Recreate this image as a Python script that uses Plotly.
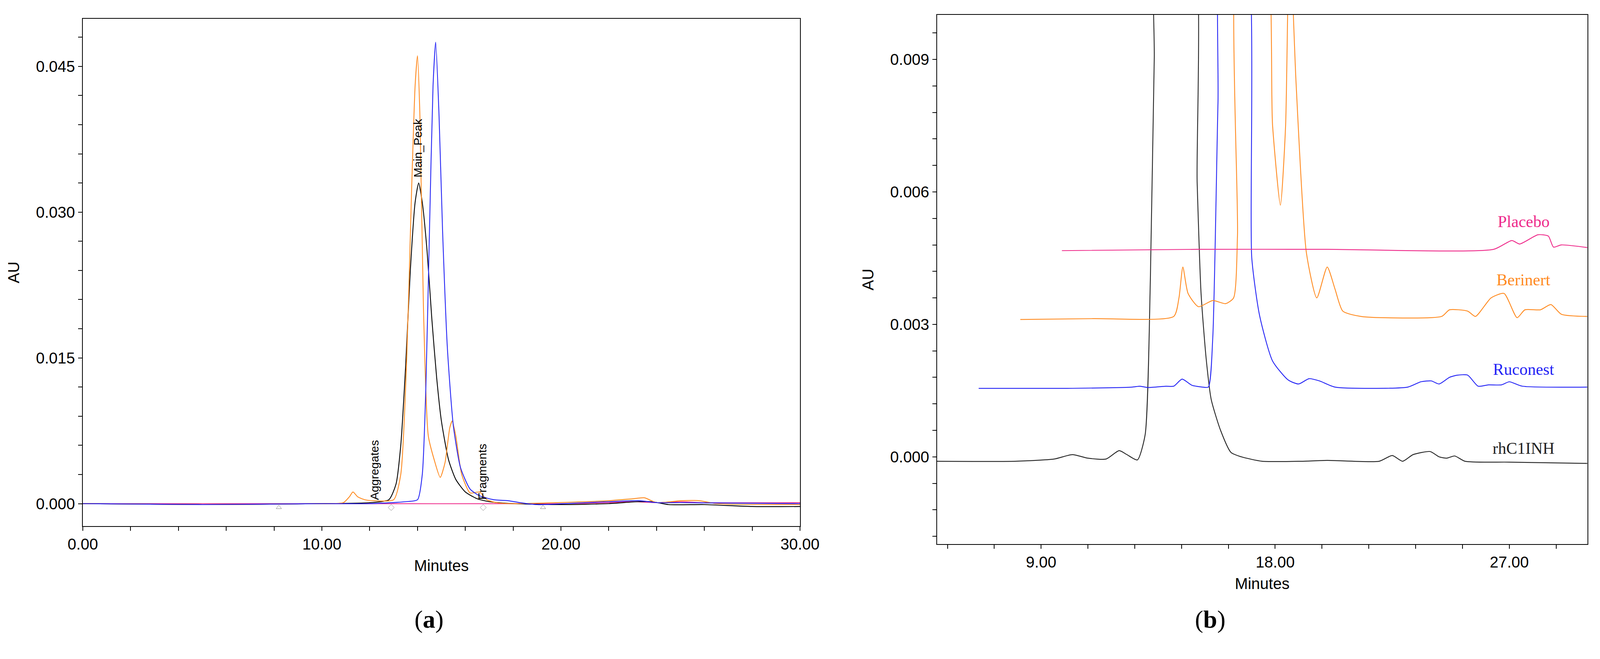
import plotly.graph_objects as go

# ---------- Panel (a) data ----------
a_black_t = [0, 5, 10, 12, 12.8, 13.1, 13.3, 13.5, 13.7, 13.9, 14.05, 14.2, 14.4, 14.6, 14.8, 15.0, 15.3, 15.6, 16.0, 16.5, 17.0, 18, 20, 22, 23.2, 23.8, 24.5, 26, 28, 30]
a_black_y = [0, -0.0001, 0, 0.0001, 0.0004, 0.002, 0.006, 0.014, 0.024, 0.031, 0.033, 0.031, 0.026, 0.019, 0.013, 0.0085, 0.0045, 0.0025, 0.0012, 0.0005, 0.0002, 0, -0.0001, 0, 0.0002, 0.0002, -0.0001, -0.0001, -0.0003, -0.0003]
a_orange_t = [0, 5, 10, 10.9, 11.15, 11.3, 11.5, 11.8, 12.2, 13.0, 13.3, 13.55, 13.75, 13.9, 14.0, 14.1, 14.25, 14.45, 14.7, 14.95, 15.15, 15.35, 15.45, 15.6, 15.85, 16.2, 16.6, 16.9, 17.3, 18, 21, 22, 23, 23.5, 24, 25, 25.8, 26.5, 30]
a_orange_y = [0, -0.0001, 0, 0.0001, 0.0007, 0.0012, 0.0007, 0.0004, 0.0003, 0.0004, 0.003, 0.015, 0.032, 0.043, 0.0461, 0.04, 0.02, 0.007, 0.0045, 0.0027, 0.0042, 0.0078, 0.0085, 0.007, 0.003, 0.0011, 0.0012, 0.0004, 0.0001, 0, 0.0002, 0.0003, 0.0005, 0.0006, 0.0001, 0.0003, 0.0003, 0, -0.0001]
a_blue_t = [0, 5, 10, 12, 13.5, 14.0, 14.2, 14.35, 14.5, 14.65, 14.76, 14.9, 15.05, 15.25, 15.5, 15.8, 16.2, 16.6, 17.2, 17.8, 18.3, 19, 21, 22, 23.3, 24, 25, 30]
a_blue_y = [0, -0.0001, 0, 0, 0.0002, 0.0004, 0.003, 0.012, 0.028, 0.043, 0.0475, 0.04, 0.028, 0.016, 0.008, 0.0037, 0.0015, 0.0008, 0.0004, 0.0003, 0.0001, -0.0001, 0.0001, 0.0002, 0.0003, 0.0001, 0.0001, 0]
a_pink_t = [0, 10, 20, 22, 23, 24, 25, 26, 30]
a_pink_y = [0, 0, 0, 0.0001, 0.0002, 0.0001, 0.0002, 0.0001, 0.0001]
a_mark_tri_t = [8.2, 19.25]
a_mark_dia_t = [12.9, 16.75]
a_mark_y = -0.0004
a_labels = ["Aggregates", "Main_Peak", "Fragments"]
a_label_t = [12.2, 14.0, 16.7]
a_label_y = [0.0003, 0.0335, 0.0003]

# ---------- Panel (b) data ----------
b_black_t = [5, 8, 9.5, 10.2, 10.8, 11.5, 12.0, 12.3, 12.7, 13.0, 13.2, 13.35, 13.5, 14.75, 15.0, 15.15, 15.35, 15.54, 15.9, 16.3, 16.7, 17.5, 19, 20, 22, 22.5, 22.9, 23.3, 23.96, 24.3, 24.6, 24.9, 25.3, 27, 30]
b_black_y = [-0.0001, -0.0001, -0.00005, 0.00005, -0.00003, -0.00005, 0.00014, 0.00005, -0.00007, 0.0005, 0.004, 0.009, 0.012, 0.012, 0.0062, 0.0037, 0.0022, 0.0013, 0.0006, 0.0001, 0.0, -0.0001, -0.0001, -0.00008, -0.0001, 0.00003, -0.0001, 0.00005, 0.00012, 0.0, -0.00003, 0.00002, -0.0001, -0.00012, -0.00015]
b_blue_t = [6.6, 10, 12.5, 12.8, 13.1, 13.8, 14.1, 14.42, 14.8, 15.2, 15.43, 15.6, 15.8, 16.0, 16.8, 17.1, 17.4, 17.9, 18.5, 18.9, 19.3, 19.7, 20.3, 23.1, 23.6, 24.0, 24.3, 24.7, 25.0, 25.4, 25.8, 26.2, 26.7, 27.0, 27.5, 30]
b_blue_y = [0.00155, 0.00155, 0.00158, 0.0016, 0.00157, 0.0016, 0.0016, 0.00176, 0.00162, 0.00158, 0.00158, 0.0027, 0.008, 0.012, 0.012, 0.0045, 0.0032, 0.00217, 0.00174, 0.00165, 0.00177, 0.00172, 0.00158, 0.00158, 0.0017, 0.00172, 0.00165, 0.0018, 0.00185, 0.00185, 0.0016, 0.00163, 0.00163, 0.0017, 0.0016, 0.00158]
b_orange_t = [8.2, 11, 14.1, 14.3, 14.45, 14.65, 15.05, 15.6, 16.1, 16.4, 16.55, 16.65, 17.55, 17.9, 18.2, 18.4, 18.55, 18.8, 19.2, 19.6, 20.0, 20.3, 20.6, 21.3, 24.4, 24.7, 25.4, 25.7, 26.3, 26.8, 27.3, 27.6, 28.2, 28.6, 29.0, 30]
b_orange_y = [0.00311, 0.00313, 0.00318, 0.0036, 0.0043, 0.0037, 0.0034, 0.00354, 0.00347, 0.0036, 0.005, 0.012, 0.012, 0.0075, 0.0057, 0.0075, 0.012, 0.0085, 0.00462, 0.0036, 0.0043, 0.0038, 0.0033, 0.00318, 0.00318, 0.00333, 0.0033, 0.00318, 0.0036, 0.0037, 0.00315, 0.00333, 0.00333, 0.00345, 0.00323, 0.00318]
b_pink_t = [9.8, 15, 20, 26.4, 27.1, 27.4, 28.1, 28.5, 28.7, 29.0, 30]
b_pink_y = [0.00467, 0.0047, 0.0047, 0.0047, 0.0049, 0.00482, 0.00503, 0.005, 0.00475, 0.0048, 0.00474]
b_names = ["Placebo", "Berinert", "Ruconest", "rhC1INH"]
b_name_y = [0.00533, 0.00401, 0.00198, 0.00019]
b_name_t = 27.55

ORANGE, BLUE, PINK, BLACK = "#FF8A1F", "#2323F5", "#EE2A8A", "#222222"
LW = 2.2

fig = go.Figure()
for t, y, c in [(a_pink_t, a_pink_y, PINK), (a_black_t, a_black_y, "#000000"),
                (a_orange_t, a_orange_y, ORANGE), (a_blue_t, a_blue_y, BLUE)]:
    fig.add_trace(go.Scatter(x=t, y=y, mode="lines", line=dict(color=c, width=LW, shape="spline", smoothing=0.6),
                             xaxis="x", yaxis="y", showlegend=False))
fig.add_trace(go.Scatter(x=a_mark_tri_t, y=[a_mark_y]*2, mode="markers",
                         marker=dict(symbol="triangle-up-open", size=12, color="#888"), xaxis="x", yaxis="y", showlegend=False))
fig.add_trace(go.Scatter(x=a_mark_dia_t, y=[a_mark_y]*2, mode="markers",
                         marker=dict(symbol="diamond-open", size=12, color="#888"), xaxis="x", yaxis="y", showlegend=False))

for t, y, c in [(b_black_t, b_black_y, BLACK), (b_blue_t, b_blue_y, BLUE),
                (b_orange_t, b_orange_y, ORANGE), (b_pink_t, b_pink_y, PINK)]:
    fig.add_trace(go.Scatter(x=t, y=y, mode="lines", line=dict(color=c, width=LW, shape="spline", smoothing=0.6),
                             xaxis="x2", yaxis="y2", showlegend=False))

tickf = dict(family="Liberation Sans, Arial", size=40, color="#000")
common = dict(showline=True, linecolor="#000", linewidth=2, mirror=True, ticks="outside", ticklen=10,
              tickwidth=2, tickcolor="#000", showgrid=False, zeroline=False, tickfont=tickf, automargin=False)
fig.update_layout(
    autosize=True, margin=dict(l=0, r=0, t=0, b=0),
    plot_bgcolor="white", paper_bgcolor="white",
    xaxis=dict(domain=[0.05, 0.5], range=[0, 30], tickvals=[0, 10, 20, 30],
               ticktext=["0.00", "10.00", "20.00", "30.00"],
               minor=dict(dtick=2, ticks="outside", ticklen=10, tickcolor="#000"),
               title=dict(text="Minutes", font=tickf, standoff=20), anchor="y", **common),
    yaxis=dict(domain=[0.199, 0.976], range=[-0.0023, 0.0499], tickvals=[0, 0.015, 0.03, 0.045],
               ticktext=["0.000", "0.015", "0.030", "0.045"],
               minor=dict(dtick=0.003, ticks="outside", ticklen=10, tickcolor="#000"),
               title=dict(text="AU", font=tickf, standoff=30), anchor="x", **common),
    xaxis2=dict(domain=[0.586, 0.994], range=[5.0, 30], tickvals=[9, 18, 27],
                ticktext=["9.00", "18.00", "27.00"],
                minor=dict(tick0=5.4, dtick=1.8, ticks="outside", ticklen=10, tickcolor="#000"),
                title=dict(text="Minutes", font=tickf, standoff=20), anchor="y2", **common),
    yaxis2=dict(domain=[0.171, 0.982], range=[-0.00198, 0.01001], tickvals=[0, 0.003, 0.006, 0.009],
                ticktext=["0.000", "0.003", "0.006", "0.009"],
                minor=dict(dtick=0.0006, ticks="outside", ticklen=10, tickcolor="#000"),
                title=dict(text="AU", font=tickf, standoff=30), anchor="x2", **common),
)

for txt, t, y in zip(a_labels, a_label_t, a_label_y):
    fig.add_annotation(x=t, y=y, xref="x", yref="y", text=txt, textangle=-90, showarrow=False,
                       xanchor="center", yanchor="bottom", font=dict(family="Liberation Sans, Arial", size=30, color="#000"))
for txt, y, c in zip(b_names, b_name_y, [PINK, ORANGE, BLUE, BLACK]):
    fig.add_annotation(x=b_name_t, y=y, xref="x2", yref="y2", text=txt, showarrow=False,
                       font=dict(family="Liberation Serif, DejaVu Serif", size=42, color=c))
for txt, xp in [("(<b>a</b>)", 1102 / 4276), ("(<b>b</b>)", 3281 / 4276)]:
    fig.add_annotation(x=xp, y=1 - 1629 / 1686, xref="paper", yref="paper", text=txt, showarrow=False,
                       font=dict(family="Liberation Serif, DejaVu Serif", size=64, color="#000"))

fig.write_html("out.html", default_width="100%", default_height="100%")
